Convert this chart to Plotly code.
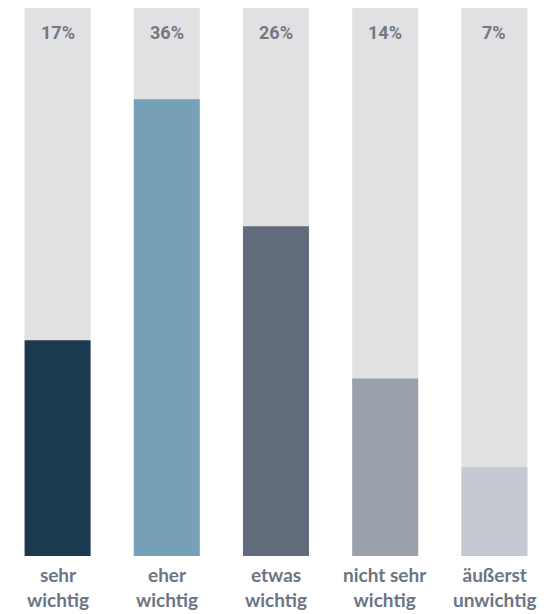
import plotly.graph_objects as go

categories = ["sehr wichtig", "eher wichtig", "etwas wichtig", "nicht sehr wichtig", "äußerst unwichtig"]
tick_labels = ["sehr<br>wichtig", "eher<br>wichtig", "etwas<br>wichtig", "nicht sehr<br>wichtig", "äußerst<br>unwichtig"]
values = [17, 36, 26, 14, 7]
value_labels = ["17%", "36%", "26%", "14%", "7%"]
bar_colors = ["#1c3a4f", "#75a0b8", "#626b7b", "#9aa0ac", "#c5c9d1"]
y_max = 43.2

fig = go.Figure()
fig.add_trace(go.Bar(x=categories, y=[y_max] * len(categories),
                     marker=dict(color="#e1e1e3", line=dict(width=0)),
                     hoverinfo="skip", showlegend=False))
fig.add_trace(go.Bar(x=categories, y=values,
                     marker=dict(color=bar_colors, line=dict(width=0)),
                     showlegend=False))

for c, lab in zip(categories, value_labels):
    fig.add_annotation(x=c, y=1, xref="x", yref="paper", text=lab, showarrow=False,
                       yanchor="middle", yshift=-24,
                       font=dict(family="Roboto, sans-serif",
                                 size=18, color="#737884", weight="bold"))
for c, lab in zip(categories, tick_labels):
    fig.add_annotation(x=c, y=0, xref="x", yref="paper", text=lab, showarrow=False,
                       yanchor="top", yshift=-5,
                       font=dict(family="Lato, sans-serif", size=19, color="#6b7585", weight="bold"))

fig.update_layout(
    width=547, height=606,
    margin=dict(l=0, r=0, t=0, b=58, pad=0),
    barmode="overlay", bargap=0.396,
    plot_bgcolor="white", paper_bgcolor="white",
    xaxis=dict(range=[-0.454, 4.555], showticklabels=False, showgrid=False, zeroline=False, showline=False),
    yaxis=dict(range=[0, y_max], showticklabels=False, showgrid=False, zeroline=False, showline=False),
)
fig.write_html("out.html")
